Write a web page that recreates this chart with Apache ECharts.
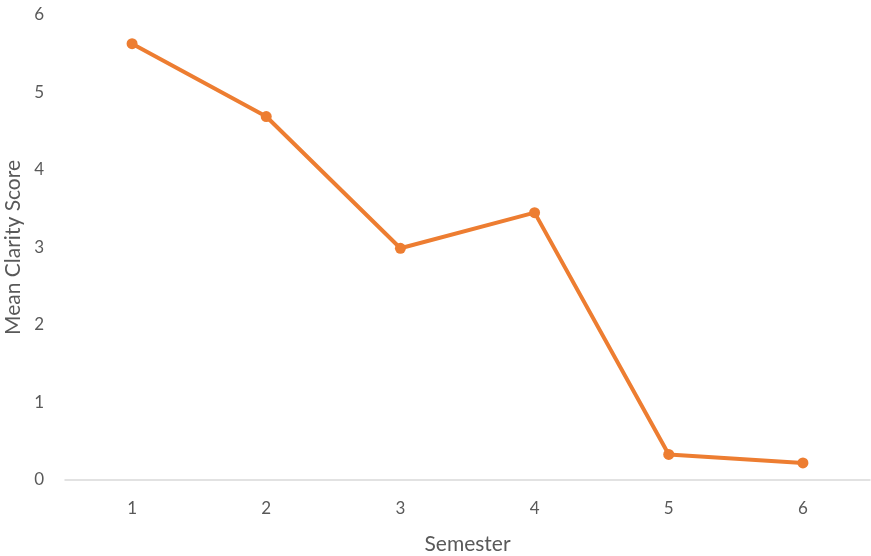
<!DOCTYPE html>
<html>
<head>
<meta charset="utf-8">
<script src="https://cdn.jsdelivr.net/npm/echarts@6/dist/echarts.min.js"></script>
<style>html,body{margin:0;padding:0;background:#fff}#c{width:871px;height:556px}</style>
</head>
<body>
<div id="c"></div>
<script>
const categories = ['1', '2', '3', '4', '5', '6'];
const meanClarity = [5.63, 4.69, 2.99, 3.45, 0.33, 0.22];
const yTicks = [0, 1, 2, 3, 4, 5, 6];

const chart = echarts.init(document.getElementById('c'));
const font = 'Lato, "Open Sans", sans-serif';
chart.setOption({
  animation: false,
  grid: { left: 65, right: 1, top: 15, bottom: 76, outerBoundsMode: 'none', containLabel: false },
  xAxis: {
    type: 'category',
    data: categories,
    boundaryGap: true,
    name: 'Semester',
    nameLocation: 'middle',
    nameGap: 54,
    nameTextStyle: { color: '#595959', fontSize: 21, fontFamily: font },
    axisLine: { lineStyle: { color: '#d9d9d9', width: 1.5 } },
    axisTick: { show: false },
    axisLabel: { color: '#595959', fontSize: 17, fontFamily: font, margin: 20 }
  },
  yAxis: {
    type: 'value',
    min: yTicks[0],
    max: yTicks[yTicks.length - 1],
    interval: 1,
    name: 'Mean Clarity Score',
    nameLocation: 'middle',
    nameGap: 33,
    nameTextStyle: { color: '#595959', fontSize: 21, fontFamily: font },
    axisLine: { show: false },
    axisTick: { show: false },
    splitLine: { show: false },
    axisLabel: { color: '#595959', fontSize: 17, fontFamily: font, margin: 21 }
  },
  series: [{
    type: 'line',
    data: meanClarity,
    symbol: 'circle',
    symbolSize: 11,
    lineStyle: { color: '#ED7D31', width: 4 },
    itemStyle: { color: '#ED7D31' }
  }]
});
</script>
</body>
</html>
